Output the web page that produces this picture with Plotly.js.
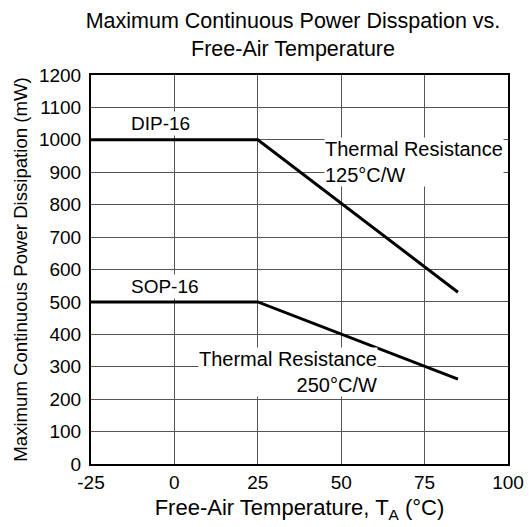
<!DOCTYPE html>
<html>
<head>
<meta charset="utf-8">
<script src="https://cdn.plot.ly/plotly-3.0.1.min.js"></script>
<style>html,body{margin:0;padding:0;background:#fff}#chart{width:529px;height:527px}</style>
</head>
<body>
<div id="chart"></div>
<script>
const temps = [-25, 25, 85];
const dipPower = [1000, 1000, 530];
const sopPower = [500, 500, 262];
const xTicks = [-25, 0, 25, 50, 75, 100];
const yTicks = [0, 100, 200, 300, 400, 500, 600, 700, 800, 900, 1000, 1100, 1200];

const FONT = 'Liberation Sans, Arial, sans-serif';

const traces = [
  {x: temps, y: dipPower, mode: 'lines', line: {color: '#000', width: 3}, showlegend: false, hoverinfo: 'skip'},
  {x: temps, y: sopPower, mode: 'lines', line: {color: '#000', width: 3}, showlegend: false, hoverinfo: 'skip'}
];

const layout = {
  width: 529, height: 527,
  margin: {l: 91, r: 21, t: 75, b: 63},
  paper_bgcolor: '#fff', plot_bgcolor: '#fff',
  font: {family: FONT, color: '#000', size: 18},
  title: {
    text: 'Maximum Continuous Power Disspation vs.<br>Free-Air Temperature',
    font: {family: FONT, size: 21.5, color: '#000'},
    xref: 'container', x: 293 / 529, xanchor: 'center', yref: 'container', y: 1 - 28 / 527, yanchor: 'middle'
  },
  xaxis: {
    range: [-25, 100], tickvals: xTicks, ticktext: xTicks.map(String),
    showgrid: true, gridcolor: '#555', gridwidth: 1, zeroline: false,
    showline: true, linecolor: '#000', linewidth: 2, mirror: true,
    ticks: '', ticklen: 0, tickfont: {family: FONT, size: 19, color: '#000'},
    title: {text: 'Free-Air Temperature, T<sub>A</sub> (°C)', font: {family: FONT, size: 22, color: '#000'}, standoff: 8}
  },
  yaxis: {
    range: [0, 1200], tickvals: yTicks, ticktext: yTicks.map(String),
    showgrid: true, gridcolor: '#555', gridwidth: 1, zeroline: false,
    showline: true, linecolor: '#000', linewidth: 2, mirror: true,
    ticks: '', ticklen: 0, ticklabelstandoff: 4, tickfont: {family: FONT, size: 19, color: '#000'},
    title: {text: 'Maximum Continuous Power Dissipation (mW)', font: {family: FONT, size: 18.6, color: '#000'}, standoff: 6}
  },
  annotations: [
    {x: -13.6, y: 1049, xref: 'x', yref: 'y', text: 'DIP-16', showarrow: false, xanchor: 'left', yanchor: 'middle', bgcolor: '#fff', font: {family: FONT, size: 19, color: '#000'}},
    {x: -13.6, y: 549, xref: 'x', yref: 'y', text: 'SOP-16', showarrow: false, xanchor: 'left', yanchor: 'middle', bgcolor: '#fff', font: {family: FONT, size: 19, color: '#000'}},
    {x: 71.7, y: 932, xref: 'x', yref: 'y', text: 'Thermal Resistance<br>125°C/W', align: 'left', showarrow: false, xanchor: 'center', yanchor: 'middle', bgcolor: '#fff', borderpad: 0, font: {family: FONT, size: 20, color: '#000'}},
    {x: 34, y: 284, xref: 'x', yref: 'y', text: 'Thermal Resistance<br>250°C/W', align: 'right', showarrow: false, xanchor: 'center', yanchor: 'middle', bgcolor: '#fff', borderpad: 0, font: {family: FONT, size: 20, color: '#000'}}
  ]
};

Plotly.newPlot('chart', traces, layout, {staticPlot: true, displayModeBar: false});
</script>
</body>
</html>
